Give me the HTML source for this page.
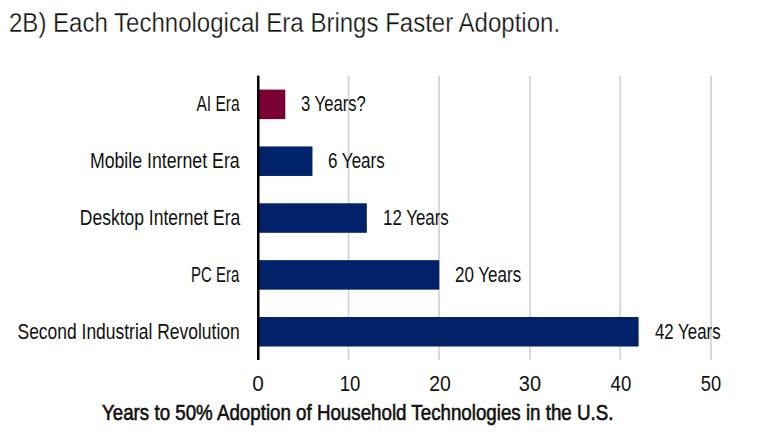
<!DOCTYPE html>
<html><head><meta charset="utf-8"><title>Each Technological Era Brings Faster Adoption</title>
<style>
html,body{margin:0;padding:0;background:#fff;}
body{width:763px;height:445px;position:relative;overflow:hidden;font-family:"Liberation Sans", "DejaVu Sans", sans-serif;}
.t{position:absolute;white-space:nowrap;line-height:1;}
</style></head><body>
<svg width="763" height="445" style="position:absolute;left:0;top:0"><rect x="347.55" y="75.6" width="2" height="284.4" fill="#d9d9d9"/><rect x="438.00" y="75.6" width="2" height="284.4" fill="#d9d9d9"/><rect x="528.90" y="75.6" width="2" height="284.4" fill="#d9d9d9"/><rect x="619.20" y="75.6" width="2" height="284.4" fill="#d9d9d9"/><rect x="710.00" y="75.6" width="2" height="284.4" fill="#d9d9d9"/><rect x="258.00" y="89.60" width="27.28" height="29.50" fill="#7a0034"/><rect x="258.00" y="146.45" width="54.46" height="29.50" fill="#012169"/><rect x="258.00" y="203.30" width="108.82" height="29.50" fill="#012169"/><rect x="258.00" y="260.15" width="181.30" height="29.50" fill="#012169"/><rect x="258.00" y="317.00" width="380.62" height="29.50" fill="#012169"/><rect x="257.00" y="75.6" width="2.5" height="284.4" fill="#000"/></svg>
<div class="t" style="left:9.20px;transform-origin:0 0;top:10.00px;font-size:27px;font-weight:normal;color:#111;transform:scaleX(0.8898);-webkit-text-stroke:0.3px #fff;">2B) Each Technological Era Brings Faster Adoption.</div>
<div class="t" style="right:523.31px;transform-origin:100% 0;top:94.00px;font-size:21.5px;font-weight:normal;color:#111;transform:scaleX(0.7258);">AI Era</div>
<div class="t" style="right:523.10px;transform-origin:100% 0;top:151.00px;font-size:21.5px;font-weight:normal;color:#111;transform:scaleX(0.8245);">Mobile Internet Era</div>
<div class="t" style="right:523.20px;transform-origin:100% 0;top:208.00px;font-size:21.5px;font-weight:normal;color:#111;transform:scaleX(0.8133);">Desktop Internet Era</div>
<div class="t" style="right:523.43px;transform-origin:100% 0;top:265.00px;font-size:21.5px;font-weight:normal;color:#111;transform:scaleX(0.6969);">PC Era</div>
<div class="t" style="right:522.82px;transform-origin:100% 0;top:322.00px;font-size:21.5px;font-weight:normal;color:#111;transform:scaleX(0.8118);">Second Industrial Revolution</div>
<div class="t" style="left:300.82px;transform-origin:0 0;top:94.00px;font-size:21.5px;font-weight:normal;color:#111;transform:scaleX(0.7744);">3 Years?</div>
<div class="t" style="left:328.02px;transform-origin:0 0;top:151.00px;font-size:21.5px;font-weight:normal;color:#111;transform:scaleX(0.7905);">6 Years</div>
<div class="t" style="left:383.02px;transform-origin:0 0;top:208.00px;font-size:21.5px;font-weight:normal;color:#111;transform:scaleX(0.7859);">12 Years</div>
<div class="t" style="left:455.47px;transform-origin:0 0;top:265.00px;font-size:21.5px;font-weight:normal;color:#111;transform:scaleX(0.7903);">20 Years</div>
<div class="t" style="left:654.90px;transform-origin:0 0;top:322.00px;font-size:21.5px;font-weight:normal;color:#111;transform:scaleX(0.7832);">42 Years</div>
<div class="t" style="left:207.83px;width:100px;text-align:center;transform-origin:50% 0;top:374.00px;font-size:21.5px;font-weight:normal;color:#111;transform:scaleX(0.9675);">0</div>
<div class="t" style="left:299.90px;width:100px;text-align:center;transform-origin:50% 0;top:374.00px;font-size:21.5px;font-weight:normal;color:#111;transform:scaleX(0.8624);">10</div>
<div class="t" style="left:389.51px;width:100px;text-align:center;transform-origin:50% 0;top:374.00px;font-size:21.5px;font-weight:normal;color:#111;transform:scaleX(0.9023);">20</div>
<div class="t" style="left:480.43px;width:100px;text-align:center;transform-origin:50% 0;top:374.00px;font-size:21.5px;font-weight:normal;color:#111;transform:scaleX(0.9298);">30</div>
<div class="t" style="left:570.98px;width:100px;text-align:center;transform-origin:50% 0;top:374.00px;font-size:21.5px;font-weight:normal;color:#111;transform:scaleX(0.8670);">40</div>
<div class="t" style="left:660.94px;width:100px;text-align:center;transform-origin:50% 0;top:374.00px;font-size:21.5px;font-weight:normal;color:#111;transform:scaleX(0.8505);">50</div>
<div class="t" style="left:102.25px;transform-origin:0 0;top:403.00px;font-size:21.5px;font-weight:normal;color:#111;transform:scaleX(0.8714);-webkit-text-stroke:0.6px #111;">Years to 50% Adoption of Household Technologies in the U.S.</div>
</body></html>
